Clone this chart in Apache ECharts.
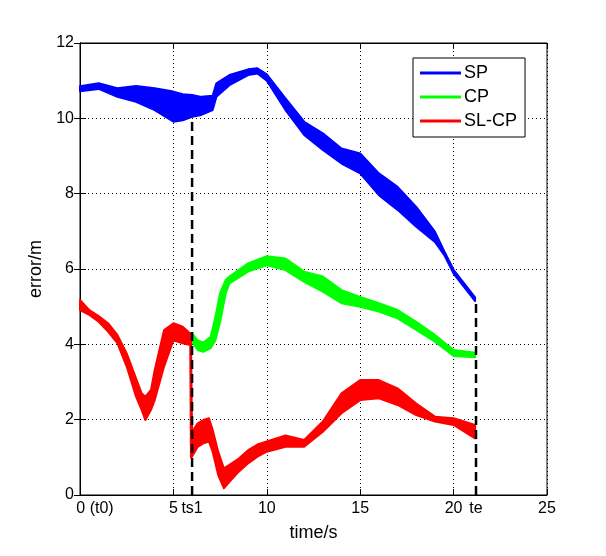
<!DOCTYPE html>
<html>
<head>
<meta charset="utf-8">
<script src="https://cdn.jsdelivr.net/npm/echarts@6/dist/echarts.min.js"></script>
<style>html,body{margin:0;padding:0;background:#fff;}#c{width:606px;height:556px;}</style>
</head>
<body>
<div id="c"></div>
<script>
// ---- data ----
var spT  = [0, 1, 2, 3, 4, 5, 5.5, 6, 6.5, 7.1, 7.3, 8, 9, 9.5, 10, 11, 12, 13, 14, 15, 16, 17, 18, 19, 19.5, 20, 21.15];
var spHi = [10.85, 10.93, 10.8, 10.86, 10.8, 10.71, 10.64, 10.62, 10.57, 10.6, 10.93, 11.15, 11.3, 11.33, 11.17, 10.53, 9.91, 9.6, 9.2, 9.07, 8.54, 8.18, 7.65, 6.99, 6.47, 5.98, 5.25];
var spLo = [10.72, 10.78, 10.57, 10.44, 10.22, 9.91, 9.95, 10.04, 10.09, 10.22, 10.57, 10.88, 11.15, 11.19, 11.0, 10.22, 9.56, 9.16, 8.8, 8.54, 7.96, 7.57, 7.12, 6.72, 6.37, 5.88, 5.15];

var cpT  = [6.0, 6.3, 6.6, 7.0, 7.25, 7.5, 7.8, 8, 9, 10, 11, 12, 13, 14, 15, 16, 17, 18, 19, 20, 21.15];
var cpHi = [4.29, 4.1, 4.05, 4.2, 4.73, 5.36, 5.71, 5.8, 6.15, 6.34, 6.28, 5.93, 5.8, 5.44, 5.26, 5.09, 4.91, 4.6, 4.25, 3.85, 3.78];
var cpLo = [4.07, 3.85, 3.8, 3.9, 4.11, 4.6, 5.35, 5.62, 5.93, 6.1, 5.97, 5.66, 5.4, 5.09, 5.0, 4.87, 4.69, 4.38, 4.07, 3.69, 3.66];

var slT  = [0, 0.5, 1, 1.5, 2, 2.5, 3, 3.3, 3.5, 3.8, 4, 4.5, 5, 5.5, 5.9, 5.94, 6.0, 6.3, 6.6, 6.9, 7.1, 7.4, 7.7, 8, 8.5, 9, 9.5, 10, 11, 12, 13, 14, 15, 16, 17, 18, 19, 20, 21.15];
var slHi = [5.18, 4.91, 4.75, 4.56, 4.25, 3.76, 3.1, 2.7, 2.61, 2.79, 3.32, 4.38, 4.56, 4.47, 4.29, 4.22, 1.68, 1.9, 1.99, 2.04, 1.73, 1.15, 0.71, 0.8, 0.97, 1.19, 1.34, 1.42, 1.58, 1.46, 1.95, 2.7, 3.05, 3.05, 2.83, 2.43, 2.08, 2.04, 1.86];
var slLo = [4.91, 4.78, 4.6, 4.34, 4.03, 3.41, 2.61, 2.26, 1.99, 2.26, 2.52, 3.41, 4.11, 4.03, 3.98, 1.0, 1.02, 1.28, 1.37, 1.42, 1.15, 0.53, 0.18, 0.35, 0.62, 0.84, 1.02, 1.15, 1.28, 1.28, 1.68, 2.17, 2.52, 2.57, 2.39, 2.12, 1.95, 1.86, 1.5];

var seriesNames = ['SP', 'CP', 'SL-CP'];
var seriesColors = ['#0000ff', '#00ff00', '#ff0000'];

var markT   = [6.0, 21.2];      // ts1, te
var markTop = [10.05, 5.15];
var markLabels = ['ts1', 'te'];

// ---- chart ----
var chart = echarts.init(document.getElementById('c'), null, {renderer: 'canvas'});
var FONT = 'Liberation Sans, Arial, sans-serif';

function band(name, color, T, HI, LO) {
  return {
    type: 'custom',
    name: name,
    silent: true,
    xAxisIndex: 0, yAxisIndex: 0,
    itemStyle: {color: color},
    data: T.map(function (t, i) { return [t, LO[i], HI[i]]; }),
    encode: {x: 0, y: [1, 2]},
    renderItem: function (params, api) {
      if (params.dataIndex !== 0) return null;
      var pts = [];
      for (var i = 0; i < T.length; i++) pts.push(api.coord([T[i], HI[i]]));
      for (var j = T.length - 1; j >= 0; j--) pts.push(api.coord([T[j], LO[j]]));
      return {type: 'polygon', shape: {points: pts},
        style: {fill: color, stroke: color, lineWidth: 2, lineJoin: 'round'}};
    }
  };
}

var dashSeries = markT.map(function (t, i) {
  return {
    type: 'line', silent: true, symbol: 'none',
    xAxisIndex: 0, yAxisIndex: 0,
    data: [[t, 0], [t, markTop[i]]],
    lineStyle: {color: '#000', width: 2.5, type: [9, 5]},
    z: 5
  };
});

var option = {
  backgroundColor: '#fff',
  animation: false,
  grid: {left: 80, right: 59, top: 43, bottom: 61, show: true, borderColor: '#000', borderWidth: 1, backgroundColor: '#fff'},
  legend: {
    orient: 'vertical', left: 413, top: 58,
    data: seriesNames.map(function (n, i) { return {name: n, itemStyle: {color: seriesColors[i]}}; }),
    icon: 'rect', itemWidth: 41, itemHeight: 3, itemGap: 6,
    padding: [6, 8, 7, 7],
    backgroundColor: '#fff', borderColor: '#000', borderWidth: 1, borderRadius: 0,
    textStyle: {fontFamily: FONT, fontSize: 18, color: '#000', padding: [0, 0, 0, -2]},
    selectedMode: false
  },
  xAxis: [
    {
      type: 'value', min: 0, max: 25, interval: 5, position: 'bottom',
      name: 'time/s', nameLocation: 'middle', nameGap: 29,
      nameTextStyle: {fontFamily: FONT, fontSize: 18, color: '#000'},
      axisLine: {show: true, lineStyle: {color: '#000', width: 1}},
      axisTick: {show: true, inside: true, length: 6, lineStyle: {color: '#000'}},
      axisLabel: {fontFamily: FONT, fontSize: 16, color: '#000', margin: 6,
        formatter: function (v) { return v === 0 ? '{a|0 (t0)}' : String(v); },
        rich: {a: {fontFamily: FONT, fontSize: 16, color: '#000', padding: [0, 0, 0, 30]}}},
      splitLine: {show: true, lineStyle: {color: '#000', width: 1, type: [1, 3]}}
    },
    {
      type: 'value', min: 0, max: 25, position: 'bottom',
      axisLine: {show: false}, axisTick: {show: false}, splitLine: {show: false},
      axisLabel: {fontFamily: FONT, fontSize: 16, color: '#000', margin: 6,
        customValues: markT,
        formatter: function (v) { var k = markT.indexOf(v); return k >= 0 ? markLabels[k] : ''; }}
    },
    {
      type: 'value', min: 0, max: 25, interval: 5, position: 'top',
      axisLine: {show: true, lineStyle: {color: '#000'}},
      axisTick: {show: true, inside: true, length: 6, lineStyle: {color: '#000'}},
      axisLabel: {show: false}, splitLine: {show: false}
    }
  ],
  yAxis: [
    {
      type: 'value', min: 0, max: 12, interval: 2, position: 'left',
      name: 'error/m', nameLocation: 'middle', nameGap: 34,
      nameTextStyle: {fontFamily: FONT, fontSize: 18, color: '#000'},
      axisLine: {show: true, lineStyle: {color: '#000', width: 1}},
      axisTick: {show: true, inside: true, length: 6, lineStyle: {color: '#000'}},
      axisLabel: {fontFamily: FONT, fontSize: 16, color: '#000', margin: 6},
      splitLine: {show: true, lineStyle: {color: '#000', width: 1, type: [1, 3]}}
    },
    {
      type: 'value', min: 0, max: 12, interval: 2, position: 'right',
      axisLine: {show: true, lineStyle: {color: '#000'}},
      axisTick: {show: true, inside: true, length: 6, lineStyle: {color: '#000'}},
      axisLabel: {show: false}, splitLine: {show: false}
    }
  ],
  series: [
    band(seriesNames[0], seriesColors[0], spT, spHi, spLo),
    band(seriesNames[1], seriesColors[1], cpT, cpHi, cpLo),
    band(seriesNames[2], seriesColors[2], slT, slHi, slLo)
  ].concat(dashSeries)
};
chart.setOption(option);
</script>
</body>
</html>
